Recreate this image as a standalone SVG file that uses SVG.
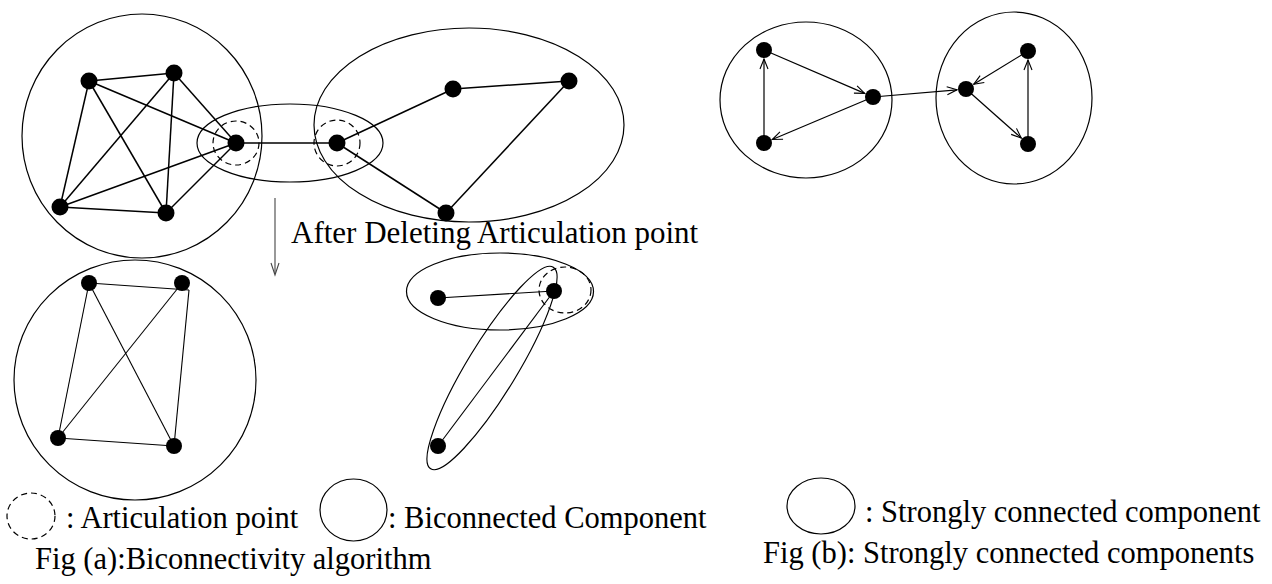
<svg xmlns="http://www.w3.org/2000/svg" width="1272" height="584" viewBox="0 0 1272 584">
<style>
.c{fill:none;stroke:#000;stroke-width:1.2}
.d{fill:none;stroke:#000;stroke-width:1.2;stroke-dasharray:6,4}
.e{stroke:#000;stroke-width:1.5;fill:none}
.f{stroke:#000;stroke-width:1.1;fill:none}
.a{stroke:#000;stroke-width:1.2;fill:none;marker-end:url(#arr)}
.n{fill:#000}
text{font-family:"Liberation Serif","Times New Roman",serif;font-size:30.5px;fill:#000}
text.big{font-size:31px}
</style>
<defs>
<marker id="arr" markerUnits="userSpaceOnUse" markerWidth="12" markerHeight="10" viewBox="0 0 12 10" refX="11" refY="5" orient="auto">
<path d="M1,1 L11,5 L1,9" fill="none" stroke="#000" stroke-width="1.1"/>
</marker>
</defs>
<g id="components">
<ellipse class="c" cx="142" cy="136" rx="120" ry="122"/>
<ellipse class="c" cx="290" cy="143" rx="93" ry="39"/>
<ellipse class="c" cx="469" cy="125" rx="155" ry="97"/>
<ellipse class="d" cx="236" cy="143" rx="23" ry="22"/>
<ellipse class="d" cx="337" cy="143" rx="23" ry="23"/>
<ellipse class="c" cx="135" cy="380" rx="121" ry="120"/>
<ellipse class="c" cx="500" cy="291.5" rx="93.5" ry="38.5"/>
<ellipse class="c" cx="492" cy="368" rx="118" ry="25" transform="rotate(-58.7 492 368)"/>
<ellipse class="d" cx="565" cy="290" rx="26" ry="23"/>
<ellipse class="c" cx="806" cy="100" rx="86" ry="78"/>
<ellipse class="c" cx="1014" cy="98" rx="78" ry="86"/>
</g>
<g id="connectors">
<line class="e" x1="89" y1="81" x2="174" y2="73"/>
<line class="e" x1="89" y1="81" x2="236" y2="143"/>
<line class="e" x1="89" y1="81" x2="166" y2="213"/>
<line class="e" x1="89" y1="81" x2="60" y2="207"/>
<line class="e" x1="174" y1="73" x2="236" y2="143"/>
<line class="e" x1="174" y1="73" x2="60" y2="207"/>
<line class="e" x1="174" y1="73" x2="166" y2="213"/>
<line class="e" x1="60" y1="207" x2="236" y2="143"/>
<line class="e" x1="60" y1="207" x2="166" y2="213"/>
<line class="e" x1="166" y1="213" x2="236" y2="143"/>
<line class="e" x1="236" y1="143" x2="337" y2="143"/>
<line class="e" x1="337" y1="143" x2="453" y2="89"/>
<line class="e" x1="453" y1="89" x2="569" y2="81"/>
<line class="e" x1="569" y1="81" x2="446" y2="213"/>
<line class="e" x1="446" y1="213" x2="337" y2="143"/>
<line x1="275" y1="198" x2="275" y2="274" stroke="#444" stroke-width="1.1"/>
<path d="M271,263 L275,275 L279,263" fill="none" stroke="#444" stroke-width="1.1"/>
<line class="f" x1="89" y1="283" x2="189" y2="290"/>
<line class="f" x1="189" y1="290" x2="174" y2="446"/>
<line class="f" x1="182" y1="283" x2="58" y2="438"/>
<line class="f" x1="89" y1="283" x2="174" y2="446"/>
<line class="f" x1="89" y1="283" x2="58" y2="438"/>
<line class="f" x1="58" y1="438" x2="174" y2="446"/>
<line class="f" x1="438" y1="298" x2="554" y2="291"/>
<line class="f" x1="554" y1="291" x2="438" y2="446"/>
<line class="a" x1="764" y1="143" x2="764" y2="59"/>
<line class="a" x1="764" y1="50" x2="864.7" y2="93.4"/>
<line class="a" x1="873" y1="97" x2="772.3" y2="139.5"/>
<line class="a" x1="873" y1="97" x2="957" y2="89.8"/>
<line class="a" x1="1028" y1="51" x2="973.7" y2="84.3"/>
<line class="a" x1="966" y1="89" x2="1021.3" y2="138"/>
<line class="a" x1="1028" y1="144" x2="1028" y2="60"/>
</g>
<g id="nodes">
<circle id="n1" class="n" cx="89" cy="81" r="8.5"/>
<circle id="n2" class="n" cx="174" cy="73" r="8.5"/>
<circle id="n3" class="n" cx="236" cy="143" r="8.5"/>
<circle id="n4" class="n" cx="60" cy="207" r="8.5"/>
<circle id="n5" class="n" cx="166" cy="213" r="8.5"/>
<circle id="n6" class="n" cx="337" cy="143" r="8.5"/>
<circle id="n7" class="n" cx="453" cy="89" r="8.5"/>
<circle id="n8" class="n" cx="569" cy="81" r="8.5"/>
<circle id="n9" class="n" cx="446" cy="213" r="8.5"/>
<circle id="n10" class="n" cx="89" cy="283" r="8"/>
<circle id="n11" class="n" cx="182" cy="283" r="8"/>
<circle id="n12" class="n" cx="58" cy="438" r="8"/>
<circle id="n13" class="n" cx="174" cy="446" r="8"/>
<circle id="n14" class="n" cx="438" cy="298" r="8"/>
<circle id="n15" class="n" cx="554" cy="291" r="8"/>
<circle id="n16" class="n" cx="438" cy="446" r="8"/>
<circle id="s1" class="n" cx="764" cy="50" r="8"/>
<circle id="s2" class="n" cx="764" cy="143" r="8"/>
<circle id="s3" class="n" cx="873" cy="97" r="8"/>
<circle id="s4" class="n" cx="966" cy="89" r="8"/>
<circle id="s5" class="n" cx="1028" cy="51" r="8"/>
<circle id="s6" class="n" cx="1028" cy="144" r="8"/>
</g>
<g id="labels">
<text class="big" x="291" y="243">After Deleting Articulation point</text>
<ellipse class="d" cx="31" cy="516" rx="24" ry="23"/>
<text x="66" y="528">: Articulation point</text>
<ellipse class="c" cx="353.5" cy="510" rx="33.5" ry="31"/>
<text x="388" y="528">: Biconnected Component</text>
<text x="35" y="569">Fig (a):Biconnectivity algorithm</text>
<ellipse class="c" cx="821" cy="506" rx="34" ry="28"/>
<text x="865" y="522">: Strongly connected component</text>
<text x="763" y="563">Fig (b): Strongly connected components</text>
</g>
</svg>
